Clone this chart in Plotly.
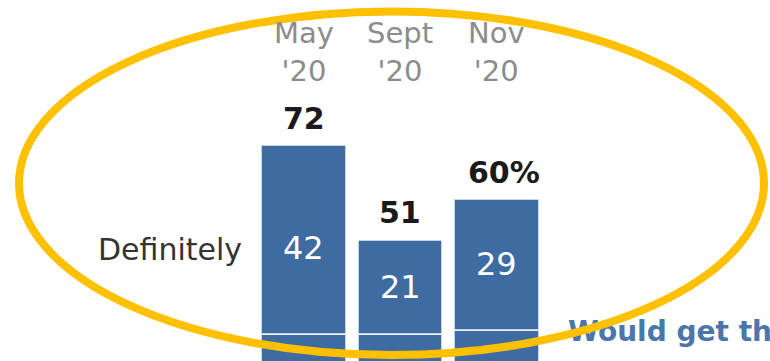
import plotly.graph_objects as go

# Survey waves and share saying they would get a vaccine
waves = ["May<br>'20", "Sept<br>'20", "Nov<br>'20"]
definitely = [42, 21, 29]
probably = [30, 30, 31]
totals = [72, 51, 60]
total_labels = ["72", "51", "60%"]

BLUE = "#3e6ca2"
SEP = "rgba(255,255,255,0.7)"
x = list(range(len(waves)))

fig = go.Figure()

# Lower segment (probably), then the definitely segment stacked on top
fig.add_trace(go.Bar(
    x=x, y=probably, marker=dict(color=BLUE, line=dict(color=SEP, width=2)),
    width=0.88, hoverinfo="skip", showlegend=False,
))
fig.add_trace(go.Bar(
    x=x, y=definitely, marker=dict(color=BLUE, line=dict(color=SEP, width=2)),
    width=0.88, hoverinfo="skip", showlegend=False,
))

# Legend-style heading that runs off the right side, beneath the highlight ring
fig.add_trace(go.Scatter(
    x=[2.741], y=[30.0], mode="text", text=["Would get the vaccine"],
    textposition="middle right", cliponaxis=False, hoverinfo="skip", showlegend=False,
    textfont=dict(family="DejaVu Sans", size=28, color="#4a76ab", weight="bold"),
))

annotations = []
for i, (d, p, t, lab) in enumerate(zip(definitely, probably, totals, total_labels)):
    # wave label along the top
    annotations.append(dict(
        x=i, xref="x", y=0.855, yref="paper", text=waves[i], showarrow=False,
        xanchor="center", yanchor="middle",
        font=dict(family="DejaVu Sans", size=29, color="#8c8c8c"),
    ))
    # total above each bar
    annotations.append(dict(
        x=i, xref="x", y=t, yref="y", text=lab, showarrow=False,
        xanchor="center", yanchor="middle", yshift=27, xshift=7 if lab.endswith("%") else 0,
        font=dict(family="DejaVu Sans", size=30, color="#1a1a1a", weight="bold"),
    ))
    # definitely value inside the upper segment
    annotations.append(dict(
        x=i, xref="x", y=p + d / 2, yref="y", text=str(d), showarrow=False,
        xanchor="center", yanchor="middle", yshift=-8 if i == 0 else 0,
        font=dict(family="DejaVu Sans", size=32, color="white"),
    ))

annotations.append(dict(
    x=244 / 770, xref="paper", y=1 - 249 / 361, yref="paper", text="Definitely",
    showarrow=False, xanchor="right", yanchor="middle",
    font=dict(family="DejaVu Sans", size=30, color="#333333"),
))

fig.update_layout(
    width=770, height=361,
    margin=dict(l=0, r=0, t=0, b=0),
    paper_bgcolor="white", plot_bgcolor="white",
    barmode="stack", bargap=0,
    xaxis=dict(range=[-3.145, 4.834], visible=False, fixedrange=True),
    yaxis=dict(range=[24.0, 104.4], visible=False, fixedrange=True),
    annotations=annotations,
    shapes=[dict(
        type="circle", xref="paper", yref="paper",
        x0=19 / 770, x1=764 / 770, y0=1 - 355 / 361, y1=1 - 11.5 / 361,
        line=dict(color="#FFC000", width=8), layer="above",
    )],
)

fig.write_html("out.html", config={"displayModeBar": False})
